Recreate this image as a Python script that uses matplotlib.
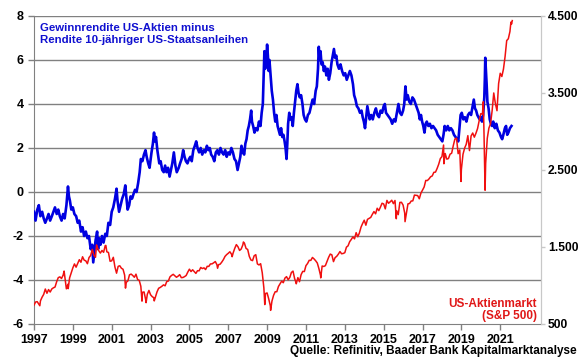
import matplotlib
matplotlib.use("Agg")
import matplotlib.pyplot as plt
import numpy as np

plt.rcParams['font.family'] = ['Liberation Sans', 'DejaVu Sans']

# ---- Blue series: earnings yield minus 10y Treasury yield (left axis) ----
blue_t = [1997.00,1997.08,1997.17,1997.25,1997.33,1997.42,1997.50,1997.58,1997.67,1997.75,1997.83,1997.92,
          1998.00,1998.08,1998.17,1998.25,1998.33,1998.42,1998.50,1998.58,1998.67,1998.75,1998.80,1998.85,1998.92,
          1999.00,1999.08,1999.17,1999.25,1999.33,1999.42,1999.50,1999.58,1999.67,1999.75,1999.83,1999.92,
          2000.00,2000.05,2000.10,2000.17,2000.25,2000.30,2000.35,2000.42,2000.50,2000.58,2000.67,2000.75,2000.83,2000.92,
          2001.00,2001.08,2001.17,2001.25,2001.30,2001.38,2001.46,2001.54,2001.62,2001.70,2001.75,2001.82,2001.90,2001.97,
          2002.05,2002.12,2002.20,2002.28,2002.36,2002.44,2002.50,2002.58,2002.66,2002.74,2002.80,2002.88,2002.95,
          2003.05,2003.12,2003.18,2003.22,2003.28,2003.35,2003.45,2003.52,2003.60,2003.68,2003.75,2003.82,2003.90,2003.98,
          2004.05,2004.12,2004.20,2004.28,2004.35,2004.45,2004.52,2004.60,2004.68,2004.75,2004.82,2004.90,2004.98,
          2005.05,2005.12,2005.20,2005.28,2005.35,2005.42,2005.50,2005.58,2005.66,2005.75,2005.82,2005.90,2005.98,
          2006.05,2006.12,2006.20,2006.28,2006.36,2006.44,2006.52,2006.60,2006.68,2006.76,2006.84,2006.92,
          2007.00,2007.08,2007.16,2007.24,2007.32,2007.40,2007.48,2007.55,2007.62,2007.68,2007.75,2007.82,2007.88,2007.94,
          2008.00,2008.06,2008.12,2008.18,2008.22,2008.28,2008.35,2008.42,2008.50,2008.58,2008.66,2008.72,2008.78,2008.82,2008.86,2008.90,2008.95,
          2009.00,2009.04,2009.08,2009.12,2009.18,2009.24,2009.30,2009.36,2009.42,2009.48,2009.54,2009.60,2009.66,2009.72,2009.78,2009.84,2009.90,2009.95,
          2010.00,2010.04,2010.08,2010.14,2010.20,2010.26,2010.32,2010.38,2010.44,2010.50,2010.56,2010.62,2010.68,2010.75,2010.82,2010.88,2010.95,
          2011.02,2011.10,2011.18,2011.26,2011.34,2011.42,2011.50,2011.56,2011.62,2011.66,2011.70,2011.75,2011.80,2011.86,2011.92,2011.98,
          2012.05,2012.12,2012.18,2012.25,2012.32,2012.38,2012.44,2012.50,2012.56,2012.62,2012.70,2012.78,2012.86,2012.94,
          2013.02,2013.10,2013.18,2013.26,2013.34,2013.42,2013.48,2013.55,2013.62,2013.70,2013.78,2013.86,2013.92,2013.98,
          2014.04,2014.10,2014.16,2014.22,2014.28,2014.36,2014.44,2014.52,2014.60,2014.68,2014.76,2014.84,2014.92,
          2015.00,2015.06,2015.12,2015.20,2015.28,2015.36,2015.44,2015.52,2015.60,2015.68,2015.76,2015.84,2015.92,
          2016.00,2016.06,2016.12,2016.18,2016.24,2016.32,2016.40,2016.48,2016.56,2016.64,2016.72,2016.80,2016.86,2016.92,2016.98,
          2017.04,2017.10,2017.16,2017.22,2017.30,2017.38,2017.46,2017.54,2017.62,2017.70,2017.78,2017.86,2017.94,
          2018.02,2018.08,2018.14,2018.22,2018.30,2018.38,2018.46,2018.54,2018.62,2018.70,2018.78,2018.84,2018.90,2018.96,
          2019.02,2019.10,2019.18,2019.26,2019.34,2019.42,2019.50,2019.58,2019.64,2019.70,2019.76,2019.82,2019.88,2019.94,
          2020.00,2020.06,2020.12,2020.18,2020.21,2020.23,2020.26,2020.30,2020.34,2020.40,2020.46,2020.52,2020.58,2020.64,2020.72,2020.80,2020.88,2020.96,
          2021.04,2021.10,2021.16,2021.24,2021.30,2021.36,2021.42,2021.50,2021.58]
blue_v = [-0.9,-1.3,-0.8,-0.6,-1.1,-0.9,-1.2,-1.4,-1.2,-1.0,-1.3,-1.1,
          -0.9,-0.7,-1.0,-0.8,-1.1,-1.3,-1.0,-1.2,-0.6,0.25,-0.2,-0.4,-0.8,
          -0.7,-1.0,-1.1,-1.4,-1.3,-1.8,-1.6,-2.0,-1.8,-2.1,-2.0,-2.6,
          -2.4,-3.2,-2.8,-2.2,-1.8,-2.6,-2.1,-2.4,-2.0,-2.3,-1.9,-2.0,-1.4,-1.5,
          -0.9,-0.7,-0.3,0.15,-0.4,-0.9,-0.6,-0.3,-0.1,0.3,-0.2,-0.8,-0.6,-0.2,
          -0.3,-0.1,0.1,0.0,0.4,0.9,1.5,1.4,1.7,1.9,1.6,1.3,1.1,
          1.8,2.2,2.7,2.3,2.5,1.9,1.3,1.4,1.0,0.9,1.2,0.9,1.1,0.7,
          1.0,1.3,1.8,1.2,0.9,1.1,1.3,1.5,1.9,1.6,1.4,1.3,1.5,
          1.6,1.4,1.9,2.1,2.3,2.0,1.8,2.0,1.7,1.9,1.8,2.1,1.9,
          2.0,1.7,1.6,1.4,1.8,1.9,1.7,2.0,1.8,1.7,1.9,1.6,
          1.8,1.7,2.0,1.8,1.5,1.4,1.0,1.3,1.6,2.1,1.8,1.7,2.2,2.4,
          2.8,3.0,3.3,3.7,3.2,3.0,2.7,2.9,2.8,3.2,3.0,3.6,4.0,5.2,6.4,5.6,5.9,
          6.7,6.2,5.5,6.0,5.3,4.6,4.2,3.6,3.2,3.5,3.0,2.8,2.6,2.9,2.5,2.6,2.3,2.0,
          1.5,2.2,3.1,3.6,3.3,3.4,3.0,3.6,4.1,4.6,4.9,4.5,4.3,4.4,4.0,3.5,3.3,
          3.2,3.5,3.6,3.9,4.2,4.0,4.6,4.8,5.6,6.6,6.0,6.4,5.8,5.9,5.5,5.7,
          5.3,5.6,5.1,5.4,5.9,6.2,6.5,6.1,6.2,5.8,5.6,5.8,5.5,5.3,
          5.4,5.1,5.3,5.5,5.3,4.9,4.4,4.2,3.9,3.8,3.6,3.7,3.4,3.2,
          2.9,3.4,3.9,3.6,3.3,3.5,3.3,3.6,3.8,3.5,3.4,3.7,3.6,
          3.9,4.0,3.6,3.5,3.4,3.3,3.1,3.3,3.2,3.6,4.0,3.6,3.5,
          3.7,4.0,4.8,4.2,4.4,4.1,4.0,4.3,4.2,4.0,3.8,3.6,3.3,3.5,3.2,
          3.0,2.7,3.1,3.2,3.0,3.1,2.9,3.0,2.9,2.8,2.6,2.5,2.4,
          2.3,2.6,3.0,2.8,3.0,2.8,2.9,2.8,2.6,2.5,2.4,2.3,2.9,3.5,
          3.6,3.3,3.4,3.2,3.5,3.6,3.5,3.9,4.2,3.8,3.7,3.5,3.4,3.3,
          3.4,3.2,3.5,4.3,5.2,6.1,5.6,4.9,4.1,3.8,3.3,3.1,3.0,3.2,2.9,3.1,2.8,2.7,
          2.5,2.4,2.6,2.9,3.0,2.6,2.7,2.9,3.0]

# ---- Red series: S&P 500 (right axis), month-end closes ----
spx_years = list(range(1997, 2022))
spx_monthly = [
    [786, 790, 757, 801, 848, 885, 954, 899, 947, 915, 955, 970],
    [980, 1049, 1102, 1112, 1091, 1134, 1121, 957, 1017, 1099, 1164, 1229],
    [1280, 1238, 1286, 1335, 1302, 1373, 1329, 1320, 1283, 1363, 1389, 1469],
    [1394, 1366, 1499, 1452, 1421, 1455, 1431, 1518, 1437, 1429, 1315, 1320],
    [1366, 1240, 1160, 1249, 1256, 1224, 1211, 1134, 1041, 1060, 1139, 1148],
    [1130, 1107, 1147, 1077, 1067, 990, 912, 916, 815, 886, 936, 880],
    [856, 841, 848, 917, 964, 975, 990, 1008, 996, 1051, 1058, 1112],
    [1131, 1145, 1126, 1107, 1121, 1141, 1102, 1104, 1115, 1130, 1174, 1212],
    [1181, 1204, 1181, 1157, 1192, 1191, 1234, 1220, 1229, 1207, 1249, 1248],
    [1280, 1281, 1295, 1311, 1270, 1270, 1277, 1304, 1336, 1378, 1401, 1418],
    [1438, 1407, 1421, 1482, 1531, 1503, 1455, 1474, 1527, 1549, 1481, 1468],
    [1378, 1331, 1323, 1386, 1400, 1280, 1267, 1283, 1165, 969, 896, 903],
    [826, 735, 798, 873, 919, 919, 987, 1021, 1057, 1036, 1096, 1115],
    [1074, 1104, 1169, 1187, 1089, 1031, 1102, 1049, 1141, 1183, 1181, 1258],
    [1286, 1327, 1326, 1364, 1345, 1321, 1292, 1219, 1131, 1253, 1247, 1258],
    [1312, 1366, 1408, 1398, 1310, 1362, 1379, 1407, 1441, 1412, 1416, 1426],
    [1498, 1515, 1569, 1598, 1631, 1606, 1686, 1633, 1682, 1757, 1806, 1848],
    [1783, 1859, 1872, 1884, 1924, 1960, 1931, 2003, 1972, 2018, 2068, 2059],
    [1995, 2105, 2068, 2086, 2107, 2063, 2104, 1972, 1920, 2079, 2080, 2044],
    [1940, 1932, 2060, 2065, 2097, 2099, 2174, 2171, 2168, 2126, 2199, 2239],
    [2279, 2364, 2363, 2384, 2412, 2423, 2470, 2472, 2519, 2575, 2648, 2674],
    [2824, 2714, 2641, 2648, 2705, 2718, 2816, 2902, 2914, 2712, 2760, 2507],
    [2704, 2784, 2834, 2946, 2752, 2942, 2980, 2926, 2977, 3038, 3141, 3231],
    [3226, 2954, 2585, 2912, 3044, 3100, 3271, 3500, 3363, 3270, 3622, 3756],
    [3714, 3811, 3973, 4181, 4204, 4298, 4395],
]
spx_start = (1997.0, 745)
spx_end = (2021.62, 4440)
# intra-month extremes (time, level)
spx_ext_t = [1997.30, 1998.55, 1998.76, 2000.22, 2000.70, 2001.71, 2002.56, 2002.77, 2003.19,
             2006.45, 2007.20, 2007.78, 2008.88, 2009.18, 2010.50, 2011.76, 2015.65, 2016.10,
             2018.10, 2018.98, 2020.13, 2020.22, 2021.55]
spx_ext_v = [737, 1187, 959, 1527, 1520, 966, 797, 777, 800,
             1224, 1374, 1565, 752, 677, 1022, 1099, 1867, 1829,
             2581, 2351, 3386, 2237, 4420]

spx_t = [spx_start[0]]
spx_v = [spx_start[1]]
for y, vals in zip(spx_years, spx_monthly):
    for m, v in enumerate(vals, start=1):
        spx_t.append(y + m / 12.0)
        spx_v.append(v)
spx_t += spx_ext_t + [spx_end[0]]
spx_v += spx_ext_v + [spx_end[1]]
order = np.argsort(spx_t)
spx_t = np.array(spx_t)[order]
spx_v = np.array(spx_v)[order]

left_ticks = [-6, -4, -2, 0, 2, 4, 6, 8]
right_ticks = [500, 1500, 2500, 3500, 4500]
right_labels = ['500', '1.500', '2.500', '3.500', '4.500']
year_ticks = list(range(1997, 2022, 2))

BLUE = '#0000e0'
RED = '#f01010'
GRID = '#808080'

fig = plt.figure(figsize=(5.8, 3.59), dpi=100)
ax = fig.add_axes([0.0586, 0.0975, 0.8742, 0.858])
ax.set_xlim(1997, 2023.1)
ax.set_ylim(-6, 8)
ax.set_yticks(left_ticks)
ax.set_yticklabels([str(t) for t in left_ticks])
ax.set_xticks(year_ticks)
ax.set_xticklabels([str(y) for y in year_ticks])
for t in left_ticks[1:]:
    ax.axhline(t, color=GRID, lw=1.0, zorder=1)
ax.plot(blue_t, blue_v, color=BLUE, lw=1.9, zorder=3, solid_joinstyle='round')

ax.spines['top'].set_visible(False)
ax.spines['left'].set_color(GRID)
ax.spines['bottom'].set_color(GRID)
ax.spines['right'].set_color('#c8c8c8')
ax.tick_params(axis='both', colors=GRID, labelcolor='black', labelsize=9, length=4, width=1)
for lab in ax.get_xticklabels() + ax.get_yticklabels():
    lab.set_fontweight('bold')

ax2 = ax.twinx()
ax2.set_ylim(500, 4500)
ax2.set_yticks(right_ticks)
ax2.set_yticklabels(right_labels)
ax2.plot(spx_t, spx_v, color=RED, lw=1.1, zorder=4)
for s in ['top', 'left', 'bottom']:
    ax2.spines[s].set_visible(False)
ax2.spines['right'].set_color('#c8c8c8')
ax2.tick_params(axis='y', colors='#c8c8c8', labelcolor='black', labelsize=8.7, length=3, width=1, pad=2)
for lab in ax2.get_yticklabels():
    lab.set_fontweight('bold')

fig.text(40/580, 1 - 34/359, 'Gewinnrendite US-Aktien minus\nRendite 10-jähriger US-Staatsanleihen',
         color='#1010d0', fontsize=8.2, fontweight='bold', ha='left', va='center', linespacing=1.15)
fig.text(537/580, 1 - 310/359, 'US-Aktienmarkt\n(S&P 500)', color='#e01818', fontsize=8.5,
         fontweight='bold', ha='right', va='center', multialignment='right', linespacing=1.1)
fig.text(577/580, 1 - 351/359, 'Quelle: Refinitiv, Baader Bank Kapitalmarktanalyse', color='black',
         fontsize=8.5, fontweight='bold', ha='right', va='center')

fig.savefig('out.png', dpi=100)
